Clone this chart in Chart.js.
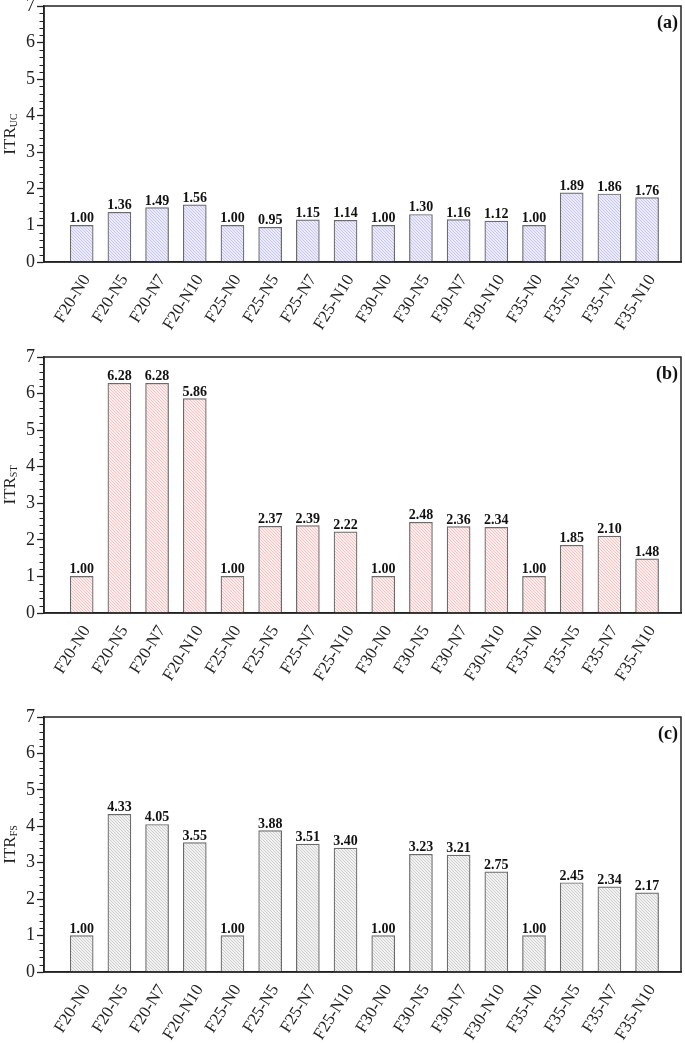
<!DOCTYPE html>
<html lang="en">
<head>
<meta charset="UTF-8">
<title>ITR</title>
<script src="https://cdn.jsdelivr.net/npm/chart.js"></script>
<style>
    body { margin: 0; background: #fff; }
    canvas.panel { position: absolute; left: 0; }
</style>
</head>
<body>
<canvas id="chartA" class="panel" style="top:0px" width="685" height="345"></canvas>
<canvas id="chartB" class="panel" style="top:345px" width="685" height="355"></canvas>
<canvas id="chartC" class="panel" style="top:700px" width="685" height="343"></canvas>
<script>
// data
const categories = ['F20-N0', 'F20-N5', 'F20-N7', 'F20-N10',
                    'F25-N0', 'F25-N5', 'F25-N7', 'F25-N10',
                    'F30-N0', 'F30-N5', 'F30-N7', 'F30-N10',
                    'F35-N0', 'F35-N5', 'F35-N7', 'F35-N10'];
const itrUC = [1.00, 1.36, 1.49, 1.56, 1.00, 0.95, 1.15, 1.14, 1.00, 1.30, 1.16, 1.12, 1.00, 1.89, 1.86, 1.76];
const itrST = [1.00, 6.28, 6.28, 5.86, 1.00, 2.37, 2.39, 2.22, 1.00, 2.48, 2.36, 2.34, 1.00, 1.85, 2.10, 1.48];
const itrFS = [1.00, 4.33, 4.05, 3.55, 1.00, 3.88, 3.51, 3.40, 1.00, 3.23, 3.21, 2.75, 1.00, 2.45, 2.34, 2.17];
const yMin = 0, yMax = 7, yMinorStep = 0.2;

const SERIF = '"Liberation Serif", "Times New Roman", serif';
const INK = '#222';

// diagonal hatch fill
function hatch(bg, line) {
    const c = document.createElement('canvas');
    c.width = 3; c.height = 3;
    const g = c.getContext('2d');
    g.fillStyle = bg;
    g.fillRect(0, 0, 3, 3);
    g.strokeStyle = line;
    g.lineWidth = 0.8;
    g.beginPath();
    g.moveTo(-1, -1); g.lineTo(4, 4);
    g.moveTo(-1, 2); g.lineTo(1, 4);
    g.moveTo(2, -1); g.lineTo(4, 1);
    g.stroke();
    return g.createPattern(c, 'repeat');
}

// box, minor ticks, value labels, y title, panel tag
const decorPlugin = {
    id: 'decor',
    afterDatasetsDraw(chart, args, opts) {
        const ctx = chart.ctx;
        const area = chart.chartArea;
        const y = chart.scales.y;

        // value labels on top of bars
        const meta = chart.getDatasetMeta(0);
        ctx.save();
        ctx.font = 'bold 14px ' + SERIF;
        ctx.fillStyle = '#111';
        ctx.textAlign = 'center';
        ctx.textBaseline = 'alphabetic';
        meta.data.forEach((bar, i) => {
            const v = chart.data.datasets[0].data[i].y;
            ctx.fillText(v.toFixed(2), bar.x, bar.y - 3);
        });
        ctx.restore();

        // frame
        ctx.save();
        ctx.strokeStyle = INK;
        ctx.lineWidth = 1.5;
        ctx.strokeRect(area.left, area.top, area.right - area.left, area.bottom - area.top);

        // minor ticks
        ctx.lineWidth = 1.2;
        ctx.beginPath();
        for (let v = yMin + yMinorStep; v < yMax - 1e-6; v += yMinorStep) {
            if (Math.abs(v - Math.round(v)) < 1e-6) continue;
            const py = Math.round(y.getPixelForValue(v)) + 0.5;
            ctx.moveTo(area.left - 4.5, py);
            ctx.lineTo(area.left, py);
        }
        ctx.stroke();
        ctx.restore();

        // y title with subscript
        const cy = (area.top + area.bottom) / 2;
        ctx.save();
        ctx.translate(15, cy);
        ctx.rotate(-Math.PI / 2);
        ctx.fillStyle = INK;
        ctx.textBaseline = 'alphabetic';
        ctx.font = '17px ' + SERIF;
        const w1 = ctx.measureText('ITR').width;
        ctx.font = '10px ' + SERIF;
        const w2 = ctx.measureText(opts.sub).width;
        const x0 = -(w1 + w2) / 2;
        ctx.font = '17px ' + SERIF;
        ctx.fillText('ITR', x0, 0);
        ctx.font = '10px ' + SERIF;
        ctx.fillText(opts.sub, x0 + w1, 1.5);
        ctx.restore();

        // panel tag
        ctx.save();
        ctx.font = 'bold 18px ' + SERIF;
        ctx.fillStyle = '#111';
        ctx.textAlign = 'right';
        ctx.fillText(opts.tag, area.right - 3, area.top + 22);
        ctx.restore();
    }
};

function makeChart(id, values, sub, tag, fill, padTop, xAxisHeight) {
    const ctx = document.getElementById(id).getContext('2d');
    return new Chart(ctx, {
        type: 'bar',
        data: {
            datasets: [{
                data: values.map((v, i) => ({ x: i, y: v })),
                backgroundColor: fill,
                borderColor: '#6a6a6a',
                borderWidth: 1.2,
                barThickness: 23
            }]
        },
        options: {
            responsive: false,
            animation: false,
            layout: { padding: { top: padTop, right: 4, left: 0, bottom: 0 } },
            plugins: {
                legend: { display: false },
                tooltip: { enabled: false },
                decor: { sub: sub, tag: tag }
            },
            scales: {
                x: {
                    type: 'linear',
                    min: -1,
                    max: 15.9,
                    offset: false,
                    afterBuildTicks: s => { s.ticks = categories.map((c, i) => ({ value: i })); },
                    afterFit: s => {
                        s.height = xAxisHeight;
                        s.paddingLeft = 0; s.paddingRight = 0;
                    },
                    grid: { display: false, drawTicks: false },
                    border: { display: true, color: INK, width: 1.5 },
                    ticks: {
                        autoSkip: false,
                        minRotation: 58,
                        maxRotation: 58,
                        padding: 9,
                        labelOffset: 5,
                        color: INK,
                        font: { family: SERIF, size: 17 },
                        callback: v => categories[v] ?? ''
                    }
                },
                y: {
                    min: yMin,
                    max: yMax,
                    afterFit: s => {
                        s.width = 44;
                        s.paddingTop = 0; s.paddingBottom = 0;
                    },
                    grid: { drawOnChartArea: false, drawTicks: true, tickLength: 7, tickColor: INK, tickWidth: 1.3 },
                    border: { display: true, color: INK, width: 1.5 },
                    ticks: {
                        stepSize: 1,
                        padding: 2,
                        color: INK,
                        font: { family: SERIF, size: 18 }
                    }
                }
            }
        },
        plugins: [decorPlugin]
    });
}

makeChart('chartA', itrUC, 'UC', '(a)', hatch('#ebebfb', '#bdbdee'), 6, 83);
makeChart('chartB', itrST, 'ST', '(b)', hatch('#fdeded', '#f5b6b6'), 12, 87);
makeChart('chartC', itrFS, 'FS', '(c)', hatch('#f2f2f2', '#c4c4c4'), 17, 71);
</script>
</body>
</html>
